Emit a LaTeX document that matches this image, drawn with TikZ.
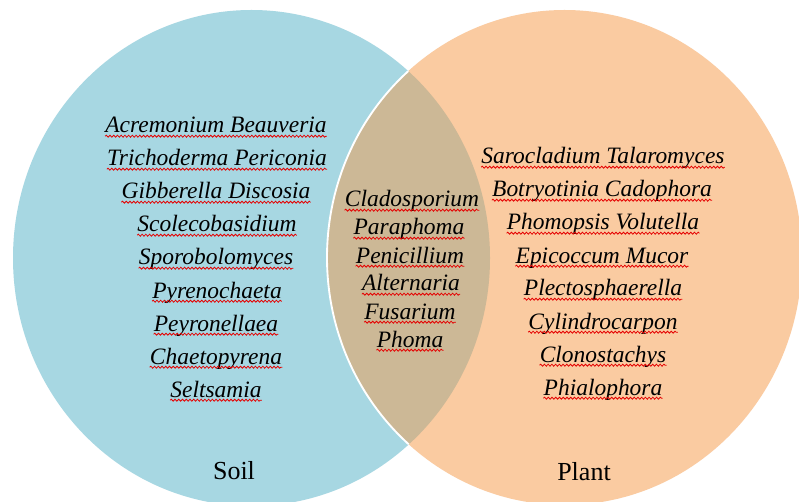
\documentclass[tikz,border=0pt]{standalone}
\usepackage{fontspec}
\setmainfont{Liberation Serif}
\usetikzlibrary{decorations.pathmorphing}
\definecolor{soilblue}{HTML}{A7D7E2}
\definecolor{plantpeach}{HTML}{FACBA1}
\definecolor{lenstan}{HTML}{CCB896}
\begin{document}
\begin{tikzpicture}[x=0.75pt,y=-0.75pt,
  taxon/.style={anchor=base, inner sep=0pt, font=\fontsize{17.6pt}{20pt}\selectfont\itshape},
  setlabel/.style={anchor=base, inner sep=0pt, font=\fontsize{19.5pt}{22pt}\selectfont},
  wavy/.style={draw=red!90!black, line width=0.6pt, decorate,
    decoration={snake, amplitude=0.75pt, segment length=2.8pt}}]
\path[use as bounding box, clip] (0,0) rectangle (799,502);
\fill[white] (0,0) rectangle (799,502);
% circles
\fill[soilblue] (251.5,258) ellipse [x radius=178.875pt, y radius=186pt];
\fill[plantpeach] (564.5,257.5) ellipse [x radius=178.125pt, y radius=185.625pt];
\begin{scope}
  \clip (251.5,258) ellipse [x radius=178.875pt, y radius=186pt];
  \fill[lenstan] (564.5,257.5) ellipse [x radius=178.125pt, y radius=185.625pt];
  \draw[white, line width=1.4pt] (564.5,257.5) ellipse [x radius=178.125pt, y radius=185.625pt];
\end{scope}
% soil only
\node[taxon] (s1) at (216,133) {Acremonium Beauveria};
\node[taxon] (s2) at (217,166) {Trichoderma Periconia};
\node[taxon] (s3) at (216,199) {Gibberella Discosia};
\node[taxon] (s4) at (217,232) {Scolecobasidium};
\node[taxon] (s5) at (216,265) {Sporobolomyces};
\node[taxon] (s6) at (217,298) {Pyrenochaeta};
\node[taxon] (s7) at (216,331) {Peyronellaea};
\node[taxon] (s8) at (216,364) {Chaetopyrena};
\node[taxon] (s9) at (216,397) {Seltsamia};
% shared
\node[taxon] (c1) at (412,207) {Cladosporium};
\node[taxon] (c2) at (409,235) {Paraphoma};
\node[taxon] (c3) at (410,263) {Penicillium};
\node[taxon] (c4) at (411,291) {Alternaria};
\node[taxon] (c5) at (410,319) {Fusarium};
\node[taxon] (c6) at (410,347) {Phoma};
% plant only
\node[taxon] (p1) at (603,164) {Sarocladium Talaromyces};
\node[taxon] (p2) at (602,197) {Botryotinia Cadophora};
\node[taxon] (p3) at (603,230) {Phomopsis Volutella};
\node[taxon] (p4) at (602,263) {Epicoccum Mucor};
\node[taxon] (p5) at (603,296) {Plectosphaerella};
\node[taxon] (p6) at (603,329) {Cylindrocarpon};
\node[taxon] (p7) at (603,362) {Clonostachys};
\node[taxon] (p8) at (603,395) {Phialophora};
% set labels
\node[setlabel] (soil) at (234,479) {Soil};
\node[setlabel] (plant) at (584,480) {Plant};
% spell-check underlines
\foreach \n in {s1,s2,s3,s4,s5,s6,s7,s8,s9,c1,c2,c3,c4,c5,c6,p1,p2,p3,p4,p5,p6,p7,p8}
  \path[wavy] ([yshift=-2.4pt]\n.base west) -- ([yshift=-2.4pt]\n.base east);
\end{tikzpicture}
\end{document}
